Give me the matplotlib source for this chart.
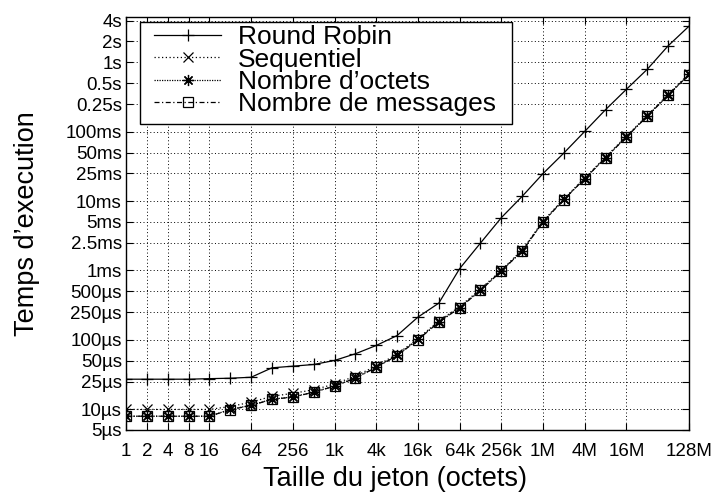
import matplotlib
matplotlib.use('Agg')
import matplotlib.pyplot as plt
from matplotlib.patches import Rectangle
from matplotlib.ticker import FixedLocator, FixedFormatter, NullLocator

plt.rcParams['font.family'] = ['Liberation Sans', 'DejaVu Sans']

# taille du jeton (octets), 1 .. 128M
sizes = [1, 2, 4, 8, 16, 32, 64, 128, 256, 512,
         1024, 2048, 4096, 8192, 16384, 32768, 65536, 131072, 262144, 524288,
         1048576, 2097152, 4194304, 8388608, 16777216, 33554432, 67108864, 134217728]

# temps d'execution en microsecondes
round_robin = [27, 27, 27, 27, 27.5, 27.9, 28.8, 39.4, 41.6, 44,
               50.3, 62.8, 82.7, 115, 212, 337, 1060, 2480, 5760, 11700,
               24900, 49300, 101000, 208000, 409000, 795000, 1730000, 3320000]
sequentiel = [9.9, 9.9, 9.9, 9.9, 9.9, 10.9, 12.6, 15.3, 16.9, 19,
              23, 30, 42, 62, 104, 187, 300, 540, 1010, 1980,
              5150, 10800, 21600, 43200, 86500, 172000, 345000, 685000]
nb_octets = [7.9, 7.9, 7.9, 7.9, 7.9, 9.9, 11.4, 13.9, 15.0, 17.6,
             21.6, 28.2, 40.4, 59.5, 101, 180, 291, 518, 985, 1910,
             5030, 10550, 21100, 42200, 84400, 168000, 337000, 670000]
nb_messages = [7.9, 7.9, 7.9, 7.9, 7.9, 9.8, 11.3, 13.8, 14.9, 17.5,
               21.4, 27.9, 40, 59, 100, 179, 289, 514, 980, 1900,
               5000, 10500, 21000, 42000, 84000, 167000, 335000, 667000]

x_ticks = [1, 2, 4, 8, 16, 64, 256, 1024, 4096, 16384, 65536, 262144,
           1048576, 4194304, 16777216, 134217728]
x_labels = ['1', '2', '4', '8', '16', '64', '256', '1k', '4k', '16k', '64k',
            '256k', '1M', '4M', '16M', '128M']
y_ticks = [5e-6, 1e-5, 2.5e-5, 5e-5, 1e-4, 2.5e-4, 5e-4, 1e-3, 2.5e-3, 5e-3,
           1e-2, 2.5e-2, 5e-2, 0.1, 0.25, 0.5, 1, 2, 4]
y_labels = ['5µs', '10µs', '25µs', '50µs', '100µs', '250µs', '500µs', '1ms',
            '2.5ms', '5ms', '10ms', '25ms', '50ms', '100ms', '0.25s', '0.5s',
            '1s', '2s', '4s']


def to_s(vals):
    return [v * 1e-6 for v in vals]


W, H = 717, 497
fig = plt.figure(figsize=(7.17, 4.97), dpi=100)
ax = fig.add_axes([126 / W, 1 - 430 / H, 563 / W, 413.3 / H])

ax.plot(sizes, to_s(round_robin), color='black', lw=0.9, ls='-',
        marker='+', ms=9, mew=0.9, label='Round Robin')
ax.plot(sizes, to_s(sequentiel), color='black', lw=0.9, ls=(0, (1, 2)),
        marker='x', ms=7, mew=0.9, label='Sequentiel')
ax.plot(sizes, to_s(nb_octets), color='black', lw=0.9, ls=(0, (1, 1)),
        marker=(8, 2, 0), ms=8, mew=0.9, label="Nombre d\u2019octets")
ax.plot(sizes, to_s(nb_messages), color='black', lw=0.9, ls=(0, (4, 2, 1, 2)),
        marker='s', ms=7.5, mew=0.9, mfc='none', label='Nombre de messages')

ax.set_xscale('log', base=2)
ax.set_yscale('log')
ax.set_xlim(1, 134217728)
ax.set_ylim(5e-6, 4.55)

ax.xaxis.set_major_locator(FixedLocator(x_ticks))
ax.xaxis.set_major_formatter(FixedFormatter(x_labels))
ax.xaxis.set_minor_locator(NullLocator())
ax.yaxis.set_major_locator(FixedLocator(y_ticks))
ax.yaxis.set_major_formatter(FixedFormatter(y_labels))
ax.yaxis.set_minor_locator(NullLocator())

ax.tick_params(direction='in', length=5, width=0.8, top=True, right=True,
               labelsize=13.5)
ax.tick_params(axis='x', pad=9)
ax.tick_params(axis='y', pad=3)
ax.grid(True, color='black', lw=0.7, ls=(0, (1, 2.5)))
for s in ax.spines.values():
    s.set_linewidth(1.0)

ax.set_xlabel('Taille du jeton (octets)', fontsize=19.5)
ax.set_ylabel("Temps d\u2019execution", fontsize=19.5)
ax.xaxis.set_label_coords(0.478, -0.088)
ax.yaxis.set_label_coords(-0.153, 0.5)

# legende sans cadre, cadre dessine a part (style gnuplot)
leg = ax.legend(loc='upper left', bbox_to_anchor=((154 - 126) / 563, (430 - 25.5) / 413.3),
                fontsize=19, frameon=False, handlelength=2.55,
                handletextpad=0.62, labelspacing=-0.07, borderpad=0,
                borderaxespad=0)
leg.set_zorder(5)
box = Rectangle((140 / W, 1 - 124 / H), 372 / W, 102 / H, transform=fig.transFigure,
                facecolor='white', edgecolor='black', lw=1.0, zorder=4)
ax.add_artist(box)
box.set_clip_on(False)

fig.savefig('out.png', dpi=100)
